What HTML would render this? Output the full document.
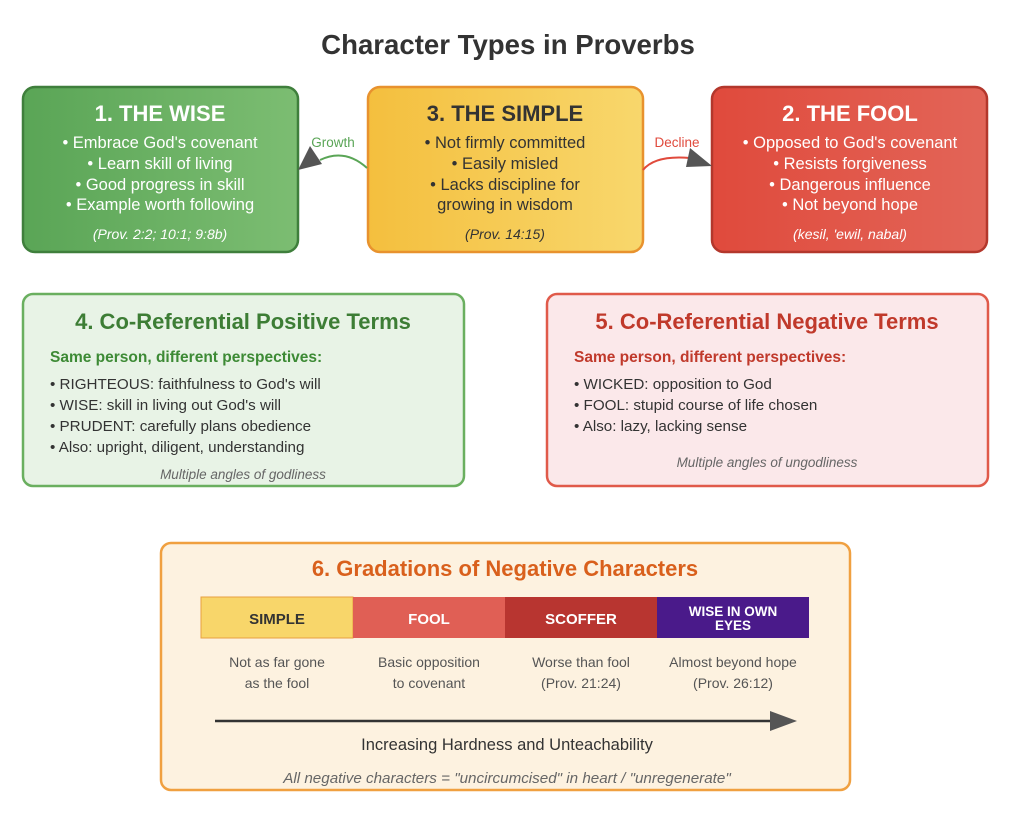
<!DOCTYPE html>
<html><head><meta charset="utf-8"><style>
html,body{margin:0;padding:0;background:#fff;}
svg{display:block;}
svg text{font-family:"Liberation Sans",Arial,Helvetica,sans-serif;}
</style></head><body>
<svg width="1024" height="824" viewBox="0 0 1024 824" xmlns="http://www.w3.org/2000/svg" font-family="Liberation Sans, Arial, Helvetica, sans-serif">
<defs>
<linearGradient id="gw" x1="0" x2="1"><stop offset="0" stop-color="#5aa556"/><stop offset="1" stop-color="#7cbd72"/></linearGradient>
<linearGradient id="gs" x1="0" x2="1"><stop offset="0" stop-color="#f4bf3e"/><stop offset="1" stop-color="#f8d76c"/></linearGradient>
<linearGradient id="gf" x1="0" x2="1"><stop offset="0" stop-color="#e04a3c"/><stop offset="1" stop-color="#e26558"/></linearGradient>
</defs>
<text x="508" y="54" text-anchor="middle" font-size="27.6" font-weight="bold" fill="#333">Character Types in Proverbs</text>

<rect x="23" y="87" width="275" height="165" rx="12" fill="url(#gw)" stroke="#3f7f3c" stroke-width="2.5"/>
<text x="160" y="121" text-anchor="middle" font-size="22" font-weight="bold" fill="#fff">1. THE WISE</text>
<g font-size="16.5" fill="#fff" text-anchor="middle">
<text x="160" y="148">• Embrace God's covenant</text>
<text x="160" y="169">• Learn skill of living</text>
<text x="160" y="190">• Good progress in skill</text>
<text x="160" y="210">• Example worth following</text>
</g>
<text x="160" y="239" text-anchor="middle" font-size="14" font-style="italic" fill="#fff">(Prov. 2:2; 10:1; 9:8b)</text>

<rect x="368" y="87" width="275" height="165" rx="12" fill="url(#gs)" stroke="#e8922e" stroke-width="2.5"/>
<text x="505" y="121" text-anchor="middle" font-size="22" font-weight="bold" fill="#333">3. THE SIMPLE</text>
<g font-size="16.5" fill="#333" text-anchor="middle">
<text x="505" y="148">• Not firmly committed</text>
<text x="505" y="169">• Easily misled</text>
<text x="505" y="190">• Lacks discipline for</text>
<text x="505" y="210">growing in wisdom</text>
</g>
<text x="505" y="239" text-anchor="middle" font-size="14" font-style="italic" fill="#333">(Prov. 14:15)</text>

<rect x="712" y="87" width="275" height="165" rx="12" fill="url(#gf)" stroke="#b3372c" stroke-width="2.5"/>
<text x="850" y="121" text-anchor="middle" font-size="22" font-weight="bold" fill="#fff">2. THE FOOL</text>
<g font-size="16.5" fill="#fff" text-anchor="middle">
<text x="850" y="148">• Opposed to God's covenant</text>
<text x="850" y="169">• Resists forgiveness</text>
<text x="850" y="190">• Dangerous influence</text>
<text x="850" y="210">• Not beyond hope</text>
</g>
<text x="850" y="239" text-anchor="middle" font-size="14" font-style="italic" fill="#fff">(kesil, 'ewil, nabal)</text>

<path d="M367 168 Q345 148 320 160" fill="none" stroke="#5aa556" stroke-width="2"/>
<polygon points="298,170 310,146 322,164" fill="#555"/>
<text x="333" y="147" text-anchor="middle" font-size="13.5" fill="#5aa556">Growth</text>
<path d="M643 170 Q655 155 690 158" fill="none" stroke="#e04a3c" stroke-width="2"/>
<polygon points="712,166 690,148 686,167" fill="#555"/>
<text x="677" y="147" text-anchor="middle" font-size="13.5" fill="#e04a3c">Decline</text>

<rect x="23" y="294" width="441" height="192" rx="10" fill="#e8f3e6" stroke="#6aaf5f" stroke-width="2.5"/>
<text x="243" y="329" text-anchor="middle" font-size="22" font-weight="bold" fill="#3d7d35">4. Co-Referential Positive Terms</text>
<text x="50" y="362" font-size="15.5" font-weight="bold" fill="#3d8a35">Same person, different perspectives:</text>
<g font-size="15.2" fill="#333">
<text x="50" y="389">• RIGHTEOUS: faithfulness to God's will</text>
<text x="50" y="410">• WISE: skill in living out God's will</text>
<text x="50" y="431">• PRUDENT: carefully plans obedience</text>
<text x="50" y="452">• Also: upright, diligent, understanding</text>
</g>
<text x="243" y="479" text-anchor="middle" font-size="13.5" font-style="italic" fill="#666">Multiple angles of godliness</text>

<rect x="547" y="294" width="441" height="192" rx="10" fill="#fbe8ea" stroke="#e05a4a" stroke-width="2.5"/>
<text x="767" y="329" text-anchor="middle" font-size="22" font-weight="bold" fill="#c0392b">5. Co-Referential Negative Terms</text>
<text x="574" y="362" font-size="15.5" font-weight="bold" fill="#c0392b">Same person, different perspectives:</text>
<g font-size="15.2" fill="#333">
<text x="574" y="389">• WICKED: opposition to God</text>
<text x="574" y="410">• FOOL: stupid course of life chosen</text>
<text x="574" y="431">• Also: lazy, lacking sense</text>
</g>
<text x="767" y="467" text-anchor="middle" font-size="13.5" font-style="italic" fill="#666">Multiple angles of ungodliness</text>

<rect x="161" y="543" width="689" height="247" rx="10" fill="#fdf2e0" stroke="#f0a040" stroke-width="2.5"/>
<text x="505" y="576" text-anchor="middle" font-size="22" font-weight="bold" fill="#d9601c">6. Gradations of Negative Characters</text>
<rect x="201" y="597" width="152" height="41" fill="#f8d66a" stroke="#e8a040" stroke-width="1"/>
<rect x="353" y="597" width="152" height="41" fill="#e05f55"/>
<rect x="505" y="597" width="152" height="41" fill="#b83530"/>
<rect x="657" y="597" width="152" height="41" fill="#4a1a8a"/>
<g font-size="15" font-weight="bold" text-anchor="middle">
<text x="277" y="624" fill="#333">SIMPLE</text>
<text x="429" y="624" fill="#fff">FOOL</text>
<text x="581" y="624" fill="#fff">SCOFFER</text>
<text x="733" y="616" fill="#fff" font-size="13.5">WISE IN OWN</text>
<text x="733" y="630" fill="#fff" font-size="13.5">EYES</text>
</g>
<g font-size="14" fill="#555" text-anchor="middle">
<text x="277" y="667">Not as far gone</text><text x="277" y="688">as the fool</text>
<text x="429" y="667">Basic opposition</text><text x="429" y="688">to covenant</text>
<text x="581" y="667">Worse than fool</text><text x="581" y="688">(Prov. 21:24)</text>
<text x="733" y="667">Almost beyond hope</text><text x="733" y="688">(Prov. 26:12)</text>
</g>
<line x1="215" y1="721" x2="775" y2="721" stroke="#333" stroke-width="2.5"/>
<polygon points="770,711 797,721 770,731" fill="#555"/>
<text x="507" y="750" text-anchor="middle" font-size="16.5" fill="#333">Increasing Hardness and Unteachability</text>
<text x="507" y="783" text-anchor="middle" font-size="15.2" font-style="italic" fill="#666">All negative characters = "uncircumcised" in heart / "unregenerate"</text>
</svg>
</body></html>
